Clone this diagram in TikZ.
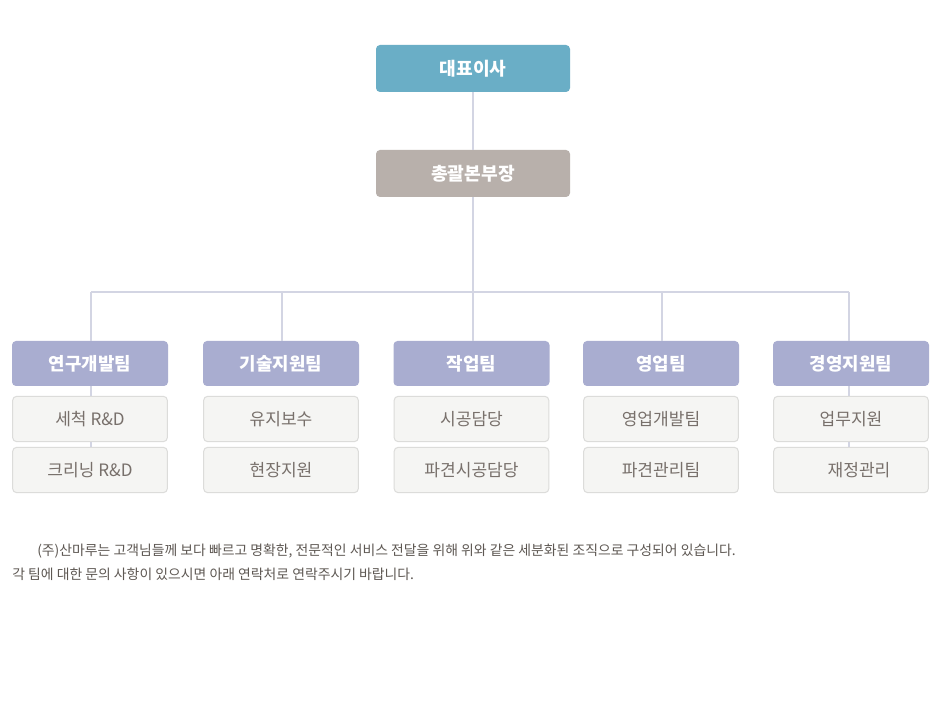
\documentclass[tikz,border=0pt]{standalone}
\usepackage{fontspec}
\setmainfont{Noto Sans CJK KR}
\definecolor{ceoC}{HTML}{6AAEC6}
\definecolor{genC}{HTML}{B8B0AB}
\definecolor{teamC}{HTML}{A9ADD0}
\definecolor{subC}{HTML}{F5F5F3}
\definecolor{subB}{HTML}{DCDCDA}
\definecolor{lineC}{HTML}{D3D5E3}
\definecolor{subT}{HTML}{78706B}
\definecolor{noteT}{HTML}{5E5853}
\begin{document}
\begin{tikzpicture}[x=0.75pt,y=-0.75pt,
  topbox/.style={rounded corners=3pt,minimum width=145.5pt,minimum height=35.25pt,inner sep=0pt,text=white,font=\fontsize{13.6pt}{15pt}\selectfont\bfseries},
  teambox/.style={rounded corners=3pt,fill=teamC,minimum width=117pt,minimum height=33.75pt,inner sep=0pt,text=white,font=\fontsize{13.4pt}{15pt}\selectfont\bfseries},
  subbox/.style={rounded corners=3pt,fill=subC,draw=subB,line width=0.75pt,minimum width=116pt,minimum height=34pt,inner sep=0pt,text=subT,font=\fontsize{12.8pt}{14pt}\selectfont},
  conn/.style={draw=lineC,line width=1.5pt},
  note/.style={anchor=west,inner sep=0pt,text=noteT,font=\fontsize{10.4pt}{12pt}\selectfont}]
\useasboundingbox[fill=white] (0,0) rectangle (940,712);
% top boxes
\node[topbox,fill=ceoC] (ceo) at (473,68.5) {대표이사};
\node[topbox,fill=genC] (gen) at (473,173.5) {총괄본부장};
\coordinate (hub) at (473,292);
% teams
\foreach \n/\x/\t/\a/\b in {t1/90/연구개발팀/세척 R\&D/크리닝 R\&D,
  t2/281/기술지원팀/유지보수/현장지원,
  t3/471.5/작업팀/시공담당/파견시공담당,
  t4/661/영업팀/영업개발팀/파견관리팀,
  t5/851/경영지원팀/업무지원/\hspace*{12pt}재정관리}{
  \node[teambox] (\n) at (\x,363.5) {\t};
  \node[subbox] (\n a) at (\x,419) {\a};
  \node[subbox] (\n b) at (\x,470) {\b};
}
% connectors
\coordinate (d1) at (91,292);
\coordinate (d2) at (282,292);
\coordinate (d3) at (473,292);
\coordinate (d4) at (662,292);
\coordinate (d5) at (849,292);
\draw[conn] (ceo.south) -- (gen.north);
\draw[conn] (gen.south) -- (hub);
\draw[conn] (d1) -- (d5);
\draw[conn] (d1) -- (d1 |- t1.north);
\draw[conn] (d2) -- (d2 |- t2.north);
\draw[conn] (d3) -- (d3 |- t3.north);
\draw[conn] (d4) -- (d4 |- t4.north);
\draw[conn] (d5) -- (d5 |- t5.north);
\draw[conn] (d1 |- t1.south) -- (d1 |- t1a.north);
\draw[conn] (d1 |- t1a.south) -- (d1 |- t1b.north);
\draw[conn] (d5 |- t5.south) -- (d5 |- t5a.north);
\draw[conn] (d5 |- t5a.south) -- (d5 |- t5b.north);
% note
\node[note] (n1) at (37,551) {(주)산마루는 고객님들께 보다 빠르고 명확한, 전문적인 서비스 전달을 위해 위와 같은 세분화된 조직으로 구성되어 있습니다.};
\node[note] (n2) at (12,574) {각 팀에 대한 문의 사항이 있으시면 아래 연락처로 연락주시기 바랍니다.};
\end{tikzpicture}
\end{document}
